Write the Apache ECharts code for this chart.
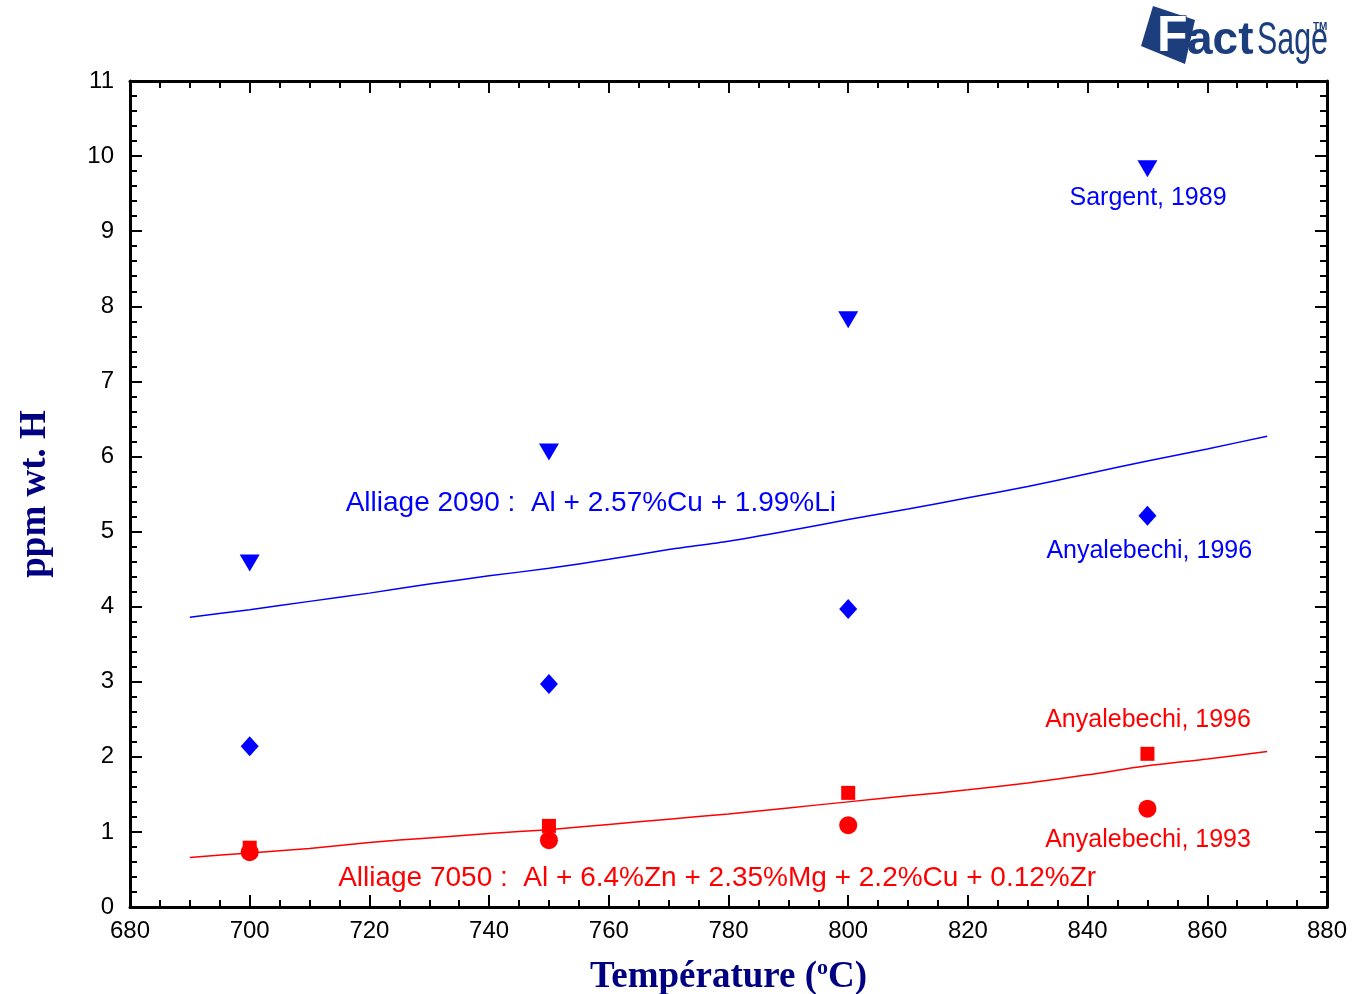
<!DOCTYPE html>
<html>
<head>
<meta charset="utf-8">
<script src="https://cdn.jsdelivr.net/npm/echarts@6/dist/echarts.min.js"></script>
<style>
  html, body { margin: 0; padding: 0; background: #fff; }
  #chart { width: 1358px; height: 994px; }
</style>
</head>
<body>
<div id="chart"></div>
<script>
// Hydrogen solubility (ppm wt.) in two aluminium alloys vs temperature
const temps = [700, 750, 800, 850];

// Measured points
const sargent1989 = [4.58, 6.06, 7.82, 9.83];       // Alliage 2090
const anyal1996Blue = [2.14, 2.97, 3.97, 5.21];     // Alliage 2090
const anyal1996Red = [0.79, 1.08, 1.52, 2.04];      // Alliage 7050
const anyal1993Red = [0.73, 0.89, 1.09, 1.31];      // Alliage 7050

// Calculated curves
const curveT = [690, 700, 710, 720, 730, 740, 750, 760, 770, 780, 790, 800, 810, 820, 830, 840, 850, 860, 870];
const curve2090 = [3.86, 3.96, 4.07, 4.18, 4.30, 4.41, 4.51, 4.63, 4.76, 4.87, 5.01, 5.16, 5.30, 5.45, 5.60, 5.77, 5.94, 6.10, 6.27];
const curve7050 = [0.66, 0.72, 0.78, 0.86, 0.92, 0.98, 1.03, 1.10, 1.17, 1.24, 1.32, 1.40, 1.48, 1.56, 1.65, 1.76, 1.88, 1.97, 2.07];

// Annotations: [x, y, text, colour, font size]
const notes = [
  [850.1, 9.44, 'Sargent, 1989', '#0000ff', 25],
  [757.0, 5.38, 'Alliage 2090 :  Al + 2.57%Cu + 1.99%Li', '#0000ff', 28],
  [850.3, 4.74, 'Anyalebechi, 1996', '#0000ff', 25],
  [850.1, 2.49, 'Anyalebechi, 1996', '#ff0000', 25],
  [850.1, 0.89, 'Anyalebechi, 1993', '#ff0000', 25],
  [778.1, 0.386, 'Alliage 7050 :  Al + 6.4%Zn + 2.35%Mg + 2.2%Cu + 0.12%Zr', '#ff0000', 28]
];

const xTicks = { min: 680, max: 880, interval: 20 };
const yTicks = { min: 0, max: 11, interval: 1 };

const pair = (xs, ys) => xs.map((x, i) => [x, ys[i]]);

const chart = echarts.init(document.getElementById('chart'), null, { renderer: 'canvas' });

const axisLine = { show: true, onZero: false, lineStyle: { color: '#000', width: 3 } };
const axisTick = { show: true, inside: true, length: 12, lineStyle: { color: '#000', width: 2 } };
const minorTick = { show: true, length: 7, lineStyle: { color: '#000', width: 2 } };
const labelFont = { fontFamily: 'Liberation Sans, Arial, sans-serif', fontSize: 24, color: '#000' };

const baseX = {
  type: 'value', min: xTicks.min, max: xTicks.max, interval: xTicks.interval,
  axisLine, axisTick, minorTick: Object.assign({ splitNumber: 4 }, minorTick),
  splitLine: { show: false }
};
const baseY = {
  type: 'value', min: yTicks.min, max: yTicks.max, interval: yTicks.interval,
  axisLine, axisTick, minorTick: Object.assign({ splitNumber: 5 }, minorTick),
  splitLine: { show: false }
};

const titleFont = { fontFamily: 'Liberation Serif, Times New Roman, serif', fontWeight: 'bold', color: '#000080' };

chart.setOption({
  animation: false,
  backgroundColor: '#ffffff',
  grid: { left: 130, right: 31, top: 81, bottom: 87, containLabel: false, outerBoundsMode: 'none' },
  xAxis: [
    Object.assign({}, baseX, {
      position: 'bottom',
      axisLabel: Object.assign({ margin: 12 }, labelFont),
      name: '{t|Température (}{s|o}{t|C)}',
      nameLocation: 'middle', nameGap: 50,
      nameTextStyle: {
        rich: {
          t: Object.assign({ fontSize: 37 }, titleFont),
          s: Object.assign({ fontSize: 22, padding: [0, 0, 18, 0] }, titleFont)
        }
      }
    }),
    Object.assign({}, baseX, { position: 'top', axisLabel: { show: false } })
  ],
  yAxis: [
    Object.assign({}, baseY, {
      position: 'left',
      axisLabel: Object.assign({ margin: 16 }, labelFont),
      name: 'ppm wt. H',
      nameLocation: 'middle', nameGap: 76, nameRotate: 90,
      nameTextStyle: Object.assign({ fontSize: 37 }, titleFont)
    }),
    Object.assign({}, baseY, { position: 'right', axisLabel: { show: false } })
  ],
  graphic: [
    // FactSage logo
    {
      type: 'group', left: 1141, top: 6,
      children: [
        { type: 'polygon', shape: { points: [[12, 0], [54, 14], [44, 58], [0, 40]] }, style: { fill: '#1d3e7d' } },
        { type: 'text', x: 16, y: 6, style: { text: 'F', fill: '#ffffff', stroke: '#1d3e7d', lineWidth: 1.5, font: 'bold 50px "Liberation Sans", Arial, sans-serif' } },
        { type: 'text', x: 46, y: 12, style: { text: 'act', fill: '#1d3e7d', font: 'bold 46px "Liberation Sans", Arial, sans-serif' } },
        { type: 'text', x: 116, y: 12, scaleX: 0.66, style: { text: 'Sage', fill: '#1d3e7d', font: '46px "Liberation Sans", sans-serif' } },
        { type: 'text', x: 172, y: 16, style: { text: 'TM', fill: '#1d3e7d', font: 'bold 10px "Liberation Sans", Arial, sans-serif' } }
      ]
    }
  ],
  series: [
    {
      name: 'Alliage 2090 calc', type: 'line', data: pair(curveT, curve2090),
      showSymbol: false, symbol: 'none', smooth: 0.2,
      lineStyle: { color: '#0000ff', width: 1.5, opacity: 1 }, z: 2
    },
    {
      name: 'Alliage 7050 calc', type: 'line', data: pair(curveT, curve7050),
      showSymbol: false, symbol: 'none', smooth: 0.2,
      lineStyle: { color: '#ff0000', width: 1.5, opacity: 1 }, z: 2
    },
    {
      name: 'Sargent, 1989', type: 'scatter', data: pair(temps, sargent1989),
      symbol: 'triangle', symbolRotate: 180, symbolSize: [20, 17],
      itemStyle: { color: '#0000ff', opacity: 1 }, z: 3
    },
    {
      name: 'Anyalebechi, 1996 (2090)', type: 'scatter', data: pair(temps, anyal1996Blue),
      symbol: 'diamond', symbolSize: [18, 20],
      itemStyle: { color: '#0000ff', opacity: 1 }, z: 3
    },
    {
      name: 'Anyalebechi, 1996 (7050)', type: 'scatter', data: pair(temps, anyal1996Red),
      symbol: 'rect', symbolSize: 14,
      itemStyle: { color: '#ff0000', opacity: 1 }, z: 3
    },
    {
      name: 'Anyalebechi, 1993 (7050)', type: 'scatter', data: pair(temps, anyal1993Red),
      symbol: 'circle', symbolSize: 18,
      itemStyle: { color: '#ff0000', opacity: 1 }, z: 4
    },
    {
      name: 'notes', type: 'scatter', symbolSize: 0, silent: true, z: 5,
      itemStyle: { opacity: 1 },
      data: notes.map(n => ({
        value: [n[0], n[1]],
        label: {
          show: true, position: 'inside', formatter: n[2],
          color: n[3], opacity: 1, align: 'center', verticalAlign: 'middle',
          fontFamily: 'Liberation Sans, Arial, sans-serif', fontSize: n[4]
        }
      }))
    }
  ]
});
</script>
</body>
</html>
